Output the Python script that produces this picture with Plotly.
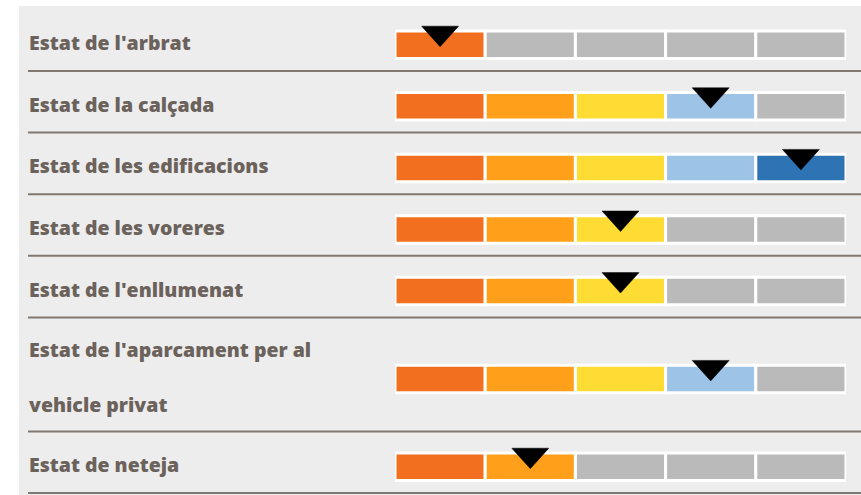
import plotly.graph_objects as go

# ---------------- data ----------------
categories = [
    "Estat de l'arbrat",
    "Estat de la calçada",
    "Estat de les edificacions",
    "Estat de les voreres",
    "Estat de l'enllumenat",
    "Estat de l'aparcament per al<br>vehicle privat",
    "Estat de neteja",
]
ratings = [1, 4, 5, 3, 3, 4, 2]
scale_levels = [1, 2, 3, 4, 5]
scale_colors = ["#F26F1F", "#FF9F1A", "#FFDC33", "#9DC3E6", "#2E74B5"]
empty_color = "#BABABA"

# ---------------- layout constants ----------------
W, H = 861, 495
TOP = 9.4
ROW_H1 = 61.6      # single-line row height
ROW_H2 = 114.0     # double-line row height
LINE_GAP = 55.5    # spacing between label lines
BAR_THICK = 27.5
TEXT_COLOR = "#6C625C"
SEP_COLOR = "#82786F"
PANEL_BG = "#EDEDED"

# compute row geometry (pixel units on the y axis)
centers, bottoms, label_lines = [], [], []
y = TOP
for lab in categories:
    lines = lab.split("<br>")
    h = ROW_H1 if len(lines) == 1 else ROW_H2
    centers.append(y + h / 2 + 4.5)
    bottoms.append(y + h)
    label_lines.append(lines)
    y += h

fig = go.Figure()

# rating segments
for k, lvl in enumerate(scale_levels):
    cols = [scale_colors[k] if lvl <= r else empty_color for r in ratings]
    fig.add_trace(go.Bar(
        orientation="h",
        y=centers,
        x=[1] * len(categories),
        base=[k] * len(categories),
        width=BAR_THICK,
        marker=dict(color=cols, line=dict(color="white", width=3)),
        hoverinfo="skip",
        showlegend=False,
    ))

# triangle markers at the centre of the rated segment
HW = 0.205   # half width in segment units
tx, ty = [], []
for r, c in zip(ratings, centers):
    xc = r - 0.5
    tx += [xc - HW, xc + HW, xc, xc - HW, None]
    ty += [c - 18.5, c - 18.5, c + 2, c - 18.5, None]
fig.add_trace(go.Scatter(
    x=tx, y=ty, mode="lines", fill="toself",
    fillcolor="black", line=dict(color="black", width=0.5),
    hoverinfo="skip", showlegend=False,
))

shapes = [
    dict(type="rect", xref="paper", yref="paper", x0=19 / W, x1=1, y0=0, y1=1 - 6 / H,
         fillcolor=PANEL_BG, line=dict(width=0), layer="below"),
]
for b in bottoms:
    shapes.append(dict(type="line", xref="paper", yref="y", x0=28 / W, x1=1, y0=b, y1=b,
                       line=dict(color=SEP_COLOR, width=2), layer="above"))

annotations = []
for lines, c in zip(label_lines, centers):
    n = len(lines)
    for i, ln in enumerate(lines):
        yy = c - 2 + (i - (n - 1) / 2) * LINE_GAP
        annotations.append(dict(
            text=ln, xref="paper", yref="y", x=27 / W, y=yy,
            xanchor="left", yanchor="middle", showarrow=False,
            font=dict(family="Open Sans", size=19.5, color=TEXT_COLOR, weight=800),
        ))

fig.update_layout(
    width=W, height=H,
    margin=dict(l=0, r=0, t=0, b=0),
    paper_bgcolor="white",
    plot_bgcolor="rgba(0,0,0,0)",
    barmode="overlay",
    xaxis=dict(domain=[395 / W, 846 / W], range=[0, 5], visible=False, fixedrange=True),
    yaxis=dict(domain=[0, 1], range=[H, 0], visible=False, fixedrange=True),
    shapes=shapes,
    annotations=annotations,
)

fig.write_html(
    "out.html",
    config={"displayModeBar": False, "staticPlot": True},
    post_script="document.body.style.margin='0';document.body.style.padding='0';",
)
